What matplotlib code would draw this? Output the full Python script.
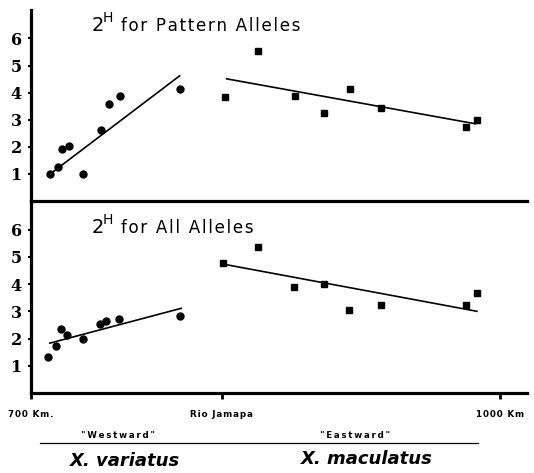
import matplotlib
matplotlib.use("Agg")
import matplotlib.pyplot as plt
from matplotlib.lines import Line2D

# ---- data (distance in km along the river system, heterozygosity 2H) ----
y_ticks = [1, 2, 3, 4, 5, 6]
x_tick_pos = [700, 822, 1000]
x_tick_labels = ["700 Km.", "Rio Jamapa", "1000 Km"]

# Pattern alleles
pat_var_km = [712, 717, 720, 724, 733, 745, 750, 757, 795]
pat_var_h = [1.0, 1.27, 1.93, 2.04, 1.0, 2.61, 3.59, 3.86, 4.13]
pat_var_fit_km = [713, 795]
pat_var_fit_h = [1.03, 4.62]

pat_mac_km = [824, 845, 869, 887, 904, 924, 978, 985]
pat_mac_h = [3.83, 5.55, 3.87, 3.25, 4.12, 3.45, 2.72, 3.0]
pat_mac_fit_km = [825, 984]
pat_mac_fit_h = [4.51, 2.85]

# All alleles
all_var_km = [711, 716, 719, 723, 733, 744, 748, 756, 795]
all_var_h = [1.33, 1.74, 2.34, 2.12, 2.0, 2.54, 2.63, 2.71, 2.82]
all_var_fit_km = [712, 796]
all_var_fit_h = [1.83, 3.11]

all_mac_km = [823, 845, 868, 887, 903, 924, 978, 985]
all_mac_h = [4.78, 5.35, 3.89, 4.02, 3.05, 3.24, 3.24, 3.67]
all_mac_fit_km = [824, 985]
all_mac_fit_h = [4.72, 3.0]

W, H = 534, 473
fig = plt.figure(figsize=(W / 100, H / 100), dpi=100)


def px_rect(x0, y0, x1, y1):
    return [x0 / W, 1 - y1 / H, (x1 - x0) / W, (y1 - y0) / H]


ax_top = fig.add_axes(px_rect(31, 10, 527, 201))
ax_bot = fig.add_axes(px_rect(31, 201, 527, 393))

tick_font = dict(family="DejaVu Serif", weight="bold", size=11.5)

for ax in (ax_top, ax_bot):
    ax.set_xlim(700, 1017)
    ax.set_ylim(0, 7.05)
    ax.spines["top"].set_visible(False)
    ax.spines["right"].set_visible(False)
    ax.spines["left"].set_linewidth(2.3)
    ax.spines["bottom"].set_linewidth(2.3)
    ax.set_yticks(y_ticks)
    ax.set_yticklabels([str(v) for v in y_ticks], fontdict=tick_font)
    ax.tick_params(axis="y", direction="out", length=2.5, width=1.5, pad=4)
    ax.patch.set_alpha(0)

ax_top.set_xticks([])


def spaced(s, n=1):
    return ("\u200a" * n).join(s)


ax_bot.set_xticks(x_tick_pos)
ax_bot.set_xticklabels([spaced(t) for t in x_tick_labels],
                       family="DejaVu Sans", weight="bold", size=6.3)
ax_bot.tick_params(axis="x", direction="out", length=4, width=2, pad=8)

# scatter + fitted lines
ms = 5
ax_top.plot(pat_var_km, pat_var_h, "o", color="black", ms=ms)
ax_top.plot(pat_var_fit_km, pat_var_fit_h, "-", color="black", lw=1.2)
ax_top.plot(pat_mac_km, pat_mac_h, "s", color="black", ms=ms)
ax_top.plot(pat_mac_fit_km, pat_mac_fit_h, "-", color="black", lw=1.2)

ax_bot.plot(all_var_km, all_var_h, "o", color="black", ms=ms)
ax_bot.plot(all_var_fit_km, all_var_fit_h, "-", color="black", lw=1.2)
ax_bot.plot(all_mac_km, all_mac_h, "s", color="black", ms=ms)
ax_bot.plot(all_mac_fit_km, all_mac_fit_h, "-", color="black", lw=1.2)

# panel titles: "2" with superscript "H"
sans = "DejaVu Sans"


def panel_title(y_base, rest):
    fig.text(92 / W, 1 - y_base / H, "2", family=sans, size=14,
             ha="left", va="baseline")
    fig.text(103 / W, 1 - (y_base - 9) / H, "H", family=sans, size=10,
             ha="left", va="baseline")
    fig.text(121 / W, 1 - y_base / H, spaced(rest), family=sans, size=12.1,
             ha="left", va="baseline")


panel_title(31, "for Pattern Alleles")
panel_title(233, "for All Alleles")

# direction labels and arrow
small = dict(family="DejaVu Sans", weight="bold", size=6.2, ha="center",
             va="center")
fig.text(118 / W, 1 - 435 / H, spaced('"Westward"', 2), **small)
fig.text(355 / W, 1 - 435 / H, spaced('"Eastward"', 2), **small)
fig.add_artist(Line2D([40 / W, 478 / W], [1 - 443 / H, 1 - 443 / H],
                      color="black", lw=0.9))

# species names
sp = dict(family="DejaVu Sans", weight="bold", style="italic", size=13,
          ha="center", va="center")
fig.text(125 / W, 1 - 461 / H, "X. variatus", **sp)
fig.text(367 / W, 1 - 459 / H, "X. maculatus", **sp)

fig.savefig("out.png", dpi=100, facecolor="white")
